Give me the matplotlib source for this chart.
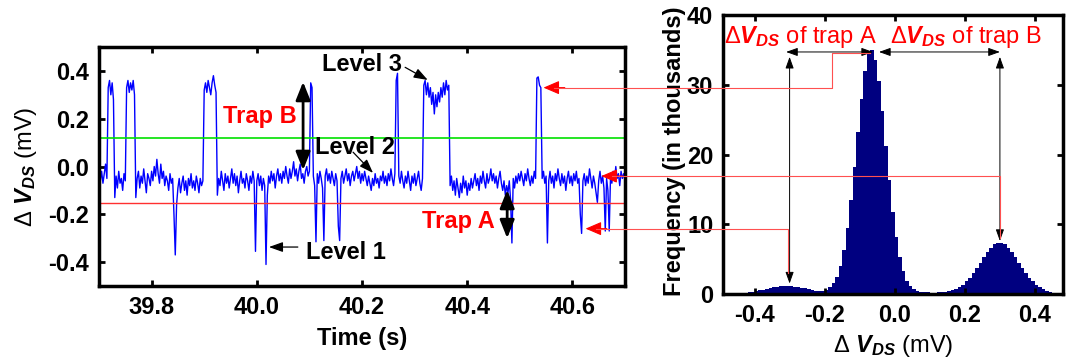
import numpy as np
import matplotlib.pyplot as plt
from matplotlib import rcParams
from matplotlib.lines import Line2D
from matplotlib.patches import FancyArrowPatch

rcParams['font.family'] = ['Liberation Sans', 'DejaVu Sans']
rcParams['axes.unicode_minus'] = False
rcParams['mathtext.fontset'] = 'custom'
rcParams['mathtext.rm'] = 'Liberation Sans'
rcParams['mathtext.it'] = 'Liberation Sans:italic'
rcParams['mathtext.bf'] = 'Liberation Sans:bold'
rcParams['mathtext.bfit'] = 'Liberation Sans:italic:bold'

# ---- RTN trace (mV), sampled every 2.5 ms from 39.7 s ----
t_start, t_step = 39.7, 0.0025
dv_trace = [
    -0.01, -0.06, -0.02, -0.07, -0.03, 0.01, -0.05, 0.33, 0.36, 0.30, 0.35, 0.28, -0.13, -0.04, -0.09, -0.02, -0.07, -0.05, -0.10, -0.03,
    -0.06, 0.33, 0.36, 0.31, 0.35, 0.32, 0.36, 0.30, -0.13, -0.05, -0.02, -0.09, -0.04, -0.07, -0.01, -0.06, -0.11, -0.03, -0.05, -0.08,
    -0.02, -0.06, 0.00, -0.04, 0.03, -0.03, -0.07, 0.01, -0.05, -0.02, -0.08, -0.04, -0.06, -0.10, -0.03, -0.07, -0.05, -0.20, -0.37, -0.16,
    -0.09, -0.05, -0.11, -0.07, -0.04, -0.10, -0.06, -0.12, -0.05, -0.08, -0.03, -0.09, -0.06, -0.10, -0.04, -0.07, -0.11, -0.05, -0.08, -0.06,
    0.32, 0.35, 0.31, 0.36, 0.33, 0.30, 0.35, 0.38, 0.34, 0.31, -0.12, -0.05, -0.08, -0.02, -0.06, -0.10, -0.03, -0.07, -0.04, -0.09,
    -0.05, -0.01, -0.07, -0.03, -0.08, -0.04, -0.11, -0.06, -0.02, -0.07, -0.05, -0.09, -0.03, -0.06, -0.10, -0.04, -0.07, -0.02, -0.06, -0.355,
    -0.06, -0.03, -0.08, -0.04, -0.10, -0.05, -0.08, -0.41, -0.12, -0.04, -0.07, -0.02, -0.06, -0.03, -0.09, -0.04, -0.01, -0.06, -0.03, -0.07,
    -0.02, -0.05, 0.00, -0.04, -0.07, -0.01, -0.05, -0.02, 0.02, -0.04, -0.01, -0.06, -0.02, 0.01, -0.05, -0.03, -0.07, -0.02, 0.00, -0.04,
    -0.02, 0.35, 0.33, -0.04, -0.08, -0.315, -0.03, -0.07, -0.02, -0.05, -0.09, -0.31, -0.04, -0.01, -0.06, -0.03, -0.07, -0.02, -0.05, -0.08,
    -0.03, -0.06, -0.25, -0.31, -0.05, -0.02, -0.07, -0.04, -0.01, -0.06, -0.03, -0.08, -0.04, -0.02, -0.06, -0.03, 0.00, -0.05, -0.02, -0.07,
    -0.03, -0.06, -0.02, -0.05, -0.08, -0.04, -0.07, -0.10, -0.05, -0.08, -0.03, -0.07, -0.05, -0.09, -0.04, -0.06, -0.02, -0.07, -0.04, -0.08,
    -0.03, -0.06, -0.01, -0.05, -0.08, -0.03, 0.36, 0.39, -0.04, -0.07, -0.02, -0.06, -0.09, -0.04, -0.07, -0.02, -0.06, -0.10, -0.04, -0.07,
    -0.03, -0.08, -0.05, -0.02, -0.07, -0.10, -0.05, 0.34, 0.36, 0.30, 0.35, 0.29, 0.33, 0.26, 0.31, 0.22, 0.30, 0.25, 0.31, 0.27,
    0.33, 0.29, 0.35, 0.30, 0.36, 0.32, 0.34, -0.08, -0.04, -0.10, -0.06, -0.12, -0.05, -0.09, -0.13, -0.07, -0.11, -0.04, -0.09, -0.06,
    -0.12, -0.07, -0.10, -0.05, -0.09, -0.06, -0.03, -0.08, -0.05, -0.10, -0.04, -0.07, -0.02, -0.06, -0.09, -0.03, -0.07, -0.05, -0.01, -0.06,
    -0.03, -0.07, -0.04, -0.09, -0.05, -0.02, -0.07, -0.10, -0.06, -0.12, -0.08, -0.11, -0.06, -0.14, -0.32, -0.05, -0.09, -0.04, -0.07, -0.03,
    -0.06, -0.02, -0.05, -0.08, -0.03, -0.06, -0.01, -0.05, -0.08, -0.04, -0.07, -0.02, -0.05, 0.37, 0.375, 0.34, 0.33, -0.05, -0.02, -0.07,
    -0.04, -0.32, -0.06, -0.02, -0.07, -0.04, -0.09, -0.03, -0.06, -0.01, -0.05, -0.08, -0.03, -0.07, -0.04, -0.10, -0.05, -0.02, -0.07, -0.04,
    -0.08, -0.03, -0.06, -0.02, -0.07, -0.05, -0.20, -0.28, -0.06, -0.03, -0.08, -0.04, -0.07, -0.01, -0.05, -0.09, -0.04, -0.07, -0.11, -0.15,
    -0.06, -0.02, -0.07, -0.04, -0.09, -0.27, -0.05, -0.10, -0.27, -0.04, -0.07, -0.02, -0.06, 0.00, -0.05, -0.03, -0.08, -0.02, -0.05, -0.03, -0.06,
]
level_green = 0.118   # upper threshold
level_red = -0.154    # lower threshold

# ---- histogram of dV_DS (thousands of counts), bins of 0.01 mV from -0.47 ----
bin_left, bin_w = -0.47, 0.01
hist_k = [
    0.10, 0.12, 0.13, 0.15, 0.20, 0.25, 0.33, 0.42, 0.52, 0.63,
    0.75, 0.86, 0.95, 1.03, 1.08, 1.10, 1.12, 1.10, 1.05, 0.98,
    0.90, 0.80, 0.68, 0.56, 0.46, 0.40, 0.42, 0.60, 0.95, 1.6,
    2.5, 4.0, 6.3, 9.5, 13.5, 18.2, 23.2, 28.0, 31.9, 34.4,
    35.0, 33.6, 30.5, 26.2, 21.2, 16.3, 11.8, 8.2, 5.3, 3.3,
    1.9, 1.1, 0.65, 0.40, 0.30, 0.25, 0.22, 0.20, 0.20, 0.22,
    0.26, 0.32, 0.40, 0.52, 0.72, 0.97, 1.3, 1.8, 2.35, 3.0,
    3.7, 4.5, 5.3, 6.0, 6.6, 7.1, 7.3, 7.3, 7.1, 6.6,
    6.0, 5.3, 4.5, 3.7, 3.0, 2.3, 1.8, 1.3, 0.95, 0.70,
    0.50, 0.35,
]
peak_a, peak_main, peak_b = -0.30, -0.065, 0.30

FS = 17
fig = plt.figure(figsize=(10.66, 3.62), dpi=100)
ax1 = fig.add_axes([99 / 1066, 76 / 362, 526 / 1066, 239 / 362])
ax2 = fig.add_axes([723 / 1066, 68 / 362, 340 / 1066, 279 / 362])

for ax in (ax1, ax2):
    for s in ax.spines.values():
        s.set_linewidth(2.5)
    ax.tick_params(direction='in', length=4, width=2, top=True, right=True,
                   labelsize=FS, pad=7)

# ---------------- left: time trace ----------------
t_trace = t_start + t_step * np.arange(len(dv_trace))
ax1.plot(t_trace, dv_trace, color='#0000ff', lw=1.0)
ax1.axhline(level_green, color='#00e000', lw=1.2)
ax1.axhline(level_red, color='#ff3030', lw=1.0)
ax1.set_xlim(39.7, 40.7)
ax1.set_ylim(-0.5, 0.5)
ax1.set_xticks([39.8, 40.0, 40.2, 40.4, 40.6])
ax1.set_xticklabels(['39.8', '40.0', '40.2', '40.4', '40.6'], fontweight='bold')
ax1.set_yticks([-0.4, -0.2, 0.0, 0.2, 0.4])
ax1.set_yticklabels(['-0.4', '-0.2', '0.0', '0.2', '0.4'], fontweight='bold')
ax1.set_xlabel('Time (s)', fontsize=FS, fontweight='bold')
ax1.xaxis.set_label_coords(0.5, -0.17)
ax1.set_ylabel(r'$\Delta\ \mathbfit{V}_{\mathbfit{DS}}$ (mV)', fontsize=FS)
ax1.yaxis.set_label_coords(-0.115, 0.5)

ax1.text(40.006, 0.182, 'Trap B', color='red', fontsize=FS, fontweight='bold',
         ha='center', va='baseline')
ax1.text(40.383, -0.257, 'Trap A', color='red', fontsize=FS, fontweight='bold',
         ha='center', va='baseline')
ax1.text(40.124, 0.40, 'Level 3', fontsize=FS, fontweight='bold', ha='left', va='baseline')
ax1.text(40.111, 0.052, 'Level 2', fontsize=FS, fontweight='bold', ha='left', va='baseline')
ax1.text(40.094, -0.387, 'Level 1', fontsize=FS, fontweight='bold', ha='left', va='baseline')

small = dict(arrowstyle='-|>,head_length=0.7,head_width=0.25', color='black', lw=0.9,
             mutation_scale=12, shrinkA=0, shrinkB=0)
ax1.annotate('', xy=(40.325, 0.362), xytext=(40.282, 0.415), arrowprops=small)
ax1.annotate('', xy=(40.221, -0.027), xytext=(40.183, 0.06), arrowprops=small)
ax1.annotate('', xy=(40.023, -0.337), xytext=(40.078, -0.337), arrowprops=small)

big = dict(arrowstyle='<|-|>,head_length=0.5,head_width=0.2', color='black', lw=2,
           mutation_scale=22, shrinkA=0, shrinkB=0)
ax1.annotate('', xy=(40.088, 0.354), xytext=(40.088, -0.015), arrowprops=big)
ax1.annotate('', xy=(40.476, -0.098), xytext=(40.476, -0.30), arrowprops=big)

# ---------------- right: histogram ----------------
edges = bin_left + bin_w * np.arange(len(hist_k) + 1)
ax2.stairs(hist_k, edges, fill=True, color='#000080')
ax2.set_xlim(-0.49, 0.48)
ax2.set_ylim(0, 40)
ax2.set_xticks([-0.4, -0.2, 0.0, 0.2, 0.4])
ax2.set_xticklabels(['-0.4', '-0.2', '0.0', '0.2', '0.4'], fontweight='bold')
ax2.set_yticks([0, 10, 20, 30, 40])
ax2.set_yticklabels(['0', '10', '20', '30', '40'], fontweight='bold')
ax2.set_ylabel('Frequency (in thousands)', fontsize=FS, fontweight='bold')
ax2.yaxis.set_label_coords(-0.108, 0.51)
ax2.set_xlabel(r'$\Delta\ \mathbfit{V}_{\mathbfit{DS}}$ (mV)', fontsize=FS)
ax2.xaxis.set_label_coords(0.5, -0.14)

ax2.text(-0.487, 36.0, r'$\Delta\mathbfit{V}_{\mathbfit{DS}}$ of trap A', color='red',
         fontsize=FS, ha='left', va='baseline')
ax2.text(-0.013, 36.0, r'$\Delta\mathbfit{V}_{\mathbfit{DS}}$ of trap B', color='red',
         fontsize=FS, ha='left', va='baseline')

thin = dict(arrowstyle='-|>,head_length=0.7,head_width=0.25', color='black', lw=0.7,
            mutation_scale=10, shrinkA=0, shrinkB=0)
thin2 = dict(thin, arrowstyle='<|-|>,head_length=0.7,head_width=0.25')
y_bar = 34.7
ax2.annotate('', xy=(peak_a - 0.01, y_bar), xytext=(peak_main + 0.003, y_bar), arrowprops=thin2)
ax2.annotate('', xy=(peak_main + 0.02, y_bar), xytext=(peak_b, y_bar), arrowprops=thin2)
ax2.annotate('', xy=(peak_a, 34.0), xytext=(peak_a, 1.5), arrowprops=thin2)
ax2.annotate('', xy=(peak_b, 34.0), xytext=(peak_b, 7.6), arrowprops=thin2)

# ---------------- red links between the panels ----------------
def fig_xy(ax, x, y):
    return fig.transFigure.inverted().transform(ax.transData.transform((x, y)))

red = '#ff5050'
links = [
    # (tip in left panel), x in right panel, end y in right panel
    ((40.545, 0.33), -0.18, y_bar - 0.1, peak_main - 0.005),
    ((40.655, -0.04), peak_b, 8.0, None),
    ((40.625, -0.26), peak_a - 0.005, 3.0, None),
]
for (tx, ty), xr, yend, xend in links:
    p0 = fig_xy(ax1, tx, ty)
    cx = fig_xy(ax2, xr, 0)[0]
    p2 = fig_xy(ax2, xr, yend)
    xs = [p0[0] + 0.01, cx, cx]
    ys = [p0[1], p0[1], p2[1]]
    if xend is not None:
        xs.append(fig_xy(ax2, xend, 0)[0])
        ys.append(p2[1])
    fig.add_artist(Line2D(xs, ys, color=red, lw=0.8, transform=fig.transFigure))
    fig.add_artist(FancyArrowPatch((p0[0] + 0.02, p0[1]), p0, transform=fig.transFigure,
                                   arrowstyle='-|>,head_length=0.7,head_width=0.3',
                                   mutation_scale=14, color='red', lw=0.8,
                                   shrinkA=0, shrinkB=0))

fig.savefig('out.png', dpi=100)
